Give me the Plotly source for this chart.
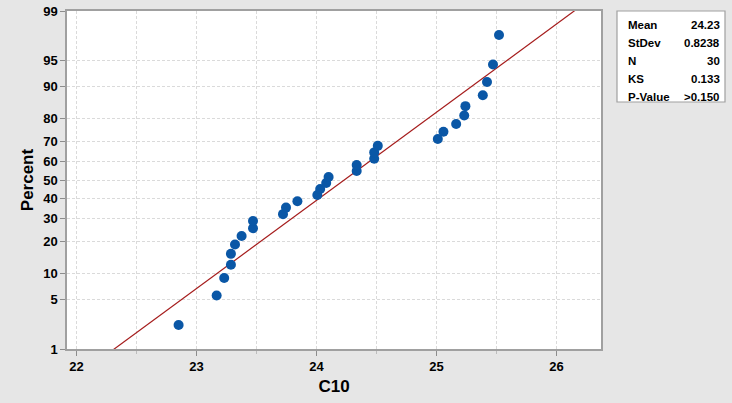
import numpy as np
import plotly.graph_objects as go
from statistics import NormalDist

# Data
c10_values = [22.85, 23.167, 23.23, 23.286, 23.286, 23.32, 23.375, 23.47, 23.47, 23.72,
              23.745, 23.84, 24.006, 24.03, 24.08, 24.10, 24.334, 24.334, 24.48, 24.48,
              24.51, 25.01, 25.057, 25.163, 25.23, 25.24, 25.385, 25.42, 25.47, 25.52]
percent_values = [2.30, 5.59, 8.88, 12.17, 15.46, 18.75, 22.04, 25.33, 28.62, 31.91,
                  35.20, 38.49, 41.78, 45.07, 48.36, 51.64, 54.93, 58.22, 61.51, 64.80,
                  68.09, 71.38, 74.67, 77.96, 81.25, 84.54, 87.83, 91.12, 94.41, 97.70]
fit_mean = 24.23
fit_stdev = 0.8238
stat_labels = ["Mean", "StDev", "N", "KS", "P-Value"]
stat_values = ["24.23", "0.8238", "30", "0.133", ">0.150"]
y_tick_percents = [1, 5, 10, 20, 30, 40, 50, 60, 70, 80, 90, 95, 99]
x_tick_values = [22, 23, 24, 25, 26]

nd = NormalDist()
def zq(p):
    return nd.inv_cdf(p / 100.0)

# probability-scale transform
y_pts = [zq(p) for p in percent_values]
z_lo, z_hi = zq(1), zq(99)
line_z = [z_lo - 0.3, z_hi + 0.3]
line_x = [fit_mean + fit_stdev * z for z in line_z]

fig = go.Figure()
fig.add_trace(go.Scatter(x=line_x, y=line_z, mode="lines",
                         line=dict(color="#A51C1C", width=1.2),
                         hoverinfo="skip", showlegend=False))
fig.add_trace(go.Scatter(x=c10_values, y=y_pts, mode="markers",
                         marker=dict(color="#0A57A6", size=10),
                         showlegend=False))

font_family = "Liberation Sans, Arial, sans-serif"
grid_color = "#DADADA"
grid_dash = "3px,2px"

fig.update_layout(
    width=732, height=403,
    margin=dict(l=67, r=131, t=11, b=54),
    paper_bgcolor="#E6E6E6",
    plot_bgcolor="white",
    font=dict(family=font_family, color="black"),
)
fig.update_xaxes(
    range=[21.92, 26.37],
    automargin=False,
    tickvals=x_tick_values,
    ticktext=[f"<b>{v}</b>" for v in x_tick_values],
    tickfont=dict(size=13, family=font_family),
    ticks="outside", ticklen=5, tickcolor="#8C8C8C",
    showline=True, linecolor="#A0A0A0", linewidth=1.5, mirror=True,
    showgrid=True, gridcolor=grid_color, griddash=grid_dash, gridwidth=1,
    minor=dict(dtick=0.5, tick0=22, showgrid=True, gridcolor=grid_color,
               griddash=grid_dash, ticks="outside", ticklen=3, tickcolor="#BDBDBD"),
    zeroline=False,
    title=dict(text="<b>C10</b>", font=dict(size=17, family=font_family), standoff=7),
)
fig.update_yaxes(
    range=[z_lo, z_hi],
    automargin=False,
    tickvals=[zq(p) for p in y_tick_percents],
    ticktext=[f"<b>{p}</b>" for p in y_tick_percents],
    tickfont=dict(size=13, family=font_family),
    ticks="outside", ticklen=5, tickcolor="#8C8C8C",
    showline=True, linecolor="#A0A0A0", linewidth=1.5, mirror=True,
    showgrid=True, gridcolor=grid_color, griddash=grid_dash, gridwidth=1,
    zeroline=False,
    title=dict(text="<b>Percent</b>", font=dict(size=17, family=font_family), standoff=5),
)

# Stats box
fig.add_shape(type="rect", xref="paper", yref="paper",
              x0=(617 - 67) / 534, x1=(725 - 67) / 534,
              y0=(349 - 102) / 338, y1=(349 - 11) / 338,
              line=dict(color="#A0A0A0", width=1.2), fillcolor="white")
row_y = [25, 43, 61, 79, 97]
for lab, val, py in zip(stat_labels, stat_values, row_y):
    yp = (349 - py) / 338
    fig.add_annotation(xref="paper", yref="paper", x=(626 - 67) / 534, y=yp,
                       text=f"<b>{lab}</b>", showarrow=False, xanchor="left",
                       yanchor="middle", font=dict(size=11.5, family=font_family))
    fig.add_annotation(xref="paper", yref="paper", x=(722 - 67) / 534, y=yp,
                       text=f"<b>{val}</b>", showarrow=False, xanchor="right",
                       yanchor="middle", font=dict(size=11.5, family=font_family))

fig.write_html("out.html", config={"displayModeBar": False},
               post_script="document.body.style.margin='0';document.body.style.overflow='hidden';")
